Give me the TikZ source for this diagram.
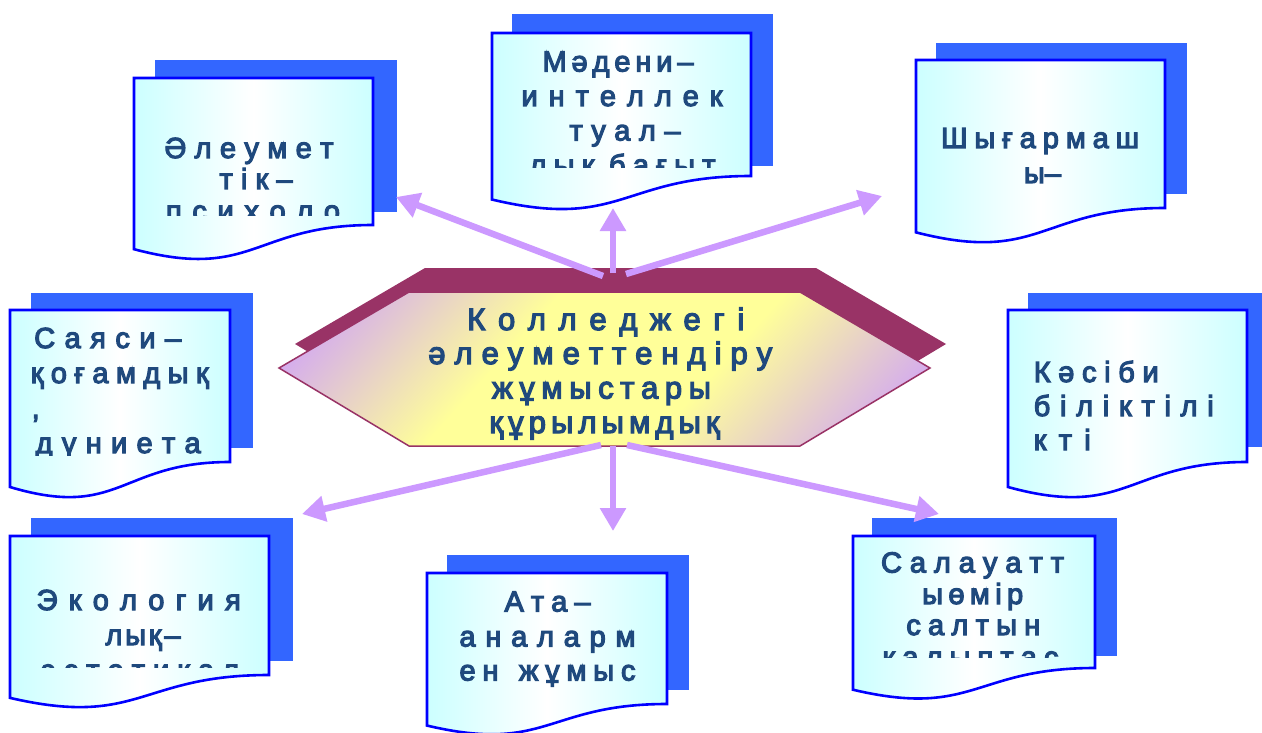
\documentclass[tikz,border=0pt]{standalone}
\usepackage{fontspec}
\setmainfont{Liberation Sans}
\newfontfamily\kzfont{Liberation Sans}[FakeBold=4]
\usetikzlibrary{arrows.meta}
\definecolor{lav}{RGB}{206,160,250}
\definecolor{yel}{RGB}{255,255,153}
\definecolor{maroonc}{RGB}{153,51,102}
\definecolor{shadowb}{RGB}{51,102,255}
\definecolor{docblue}{RGB}{0,0,255}
\definecolor{cyanl}{RGB}{204,255,255}
\definecolor{txtblue}{RGB}{31,73,125}
\definecolor{arrowc}{RGB}{204,153,255}
\pgfdeclarehorizontalshading{hexshade}{100bp}{color(0bp)=(lav); color(18bp)=(lav); color(40bp)=(yel); color(60bp)=(yel); color(82bp)=(lav); color(100bp)=(lav)}
\newcommand\spr[2]{\makebox[#1pt][s]{\spaceskip=0pt plus 1fil\relax #2}}
\newcommand\docshape[5]{%
  \pgfmathsetmacro\dH{(#5-#3)/0.802}%
  \pgfmathsetmacro\dM{(#2+#4)/2}%
  \pgfmathsetmacro\dC{#3+1.1075*\dH}%
  \pgfmathsetmacro\dL{#3+0.934*\dH}%
  \draw[docline] (#2,#3) -- (#4,#3) -- (#4,#5) .. controls (\dM,#5) and (\dM,\dC) .. (#2,\dL) -- cycle;
  \coordinate (#1) at (\dM,#3);
}
\begin{document}
\begin{tikzpicture}[x=1pt,y=-1pt,
  docline/.style={draw=docblue, line width=2.6pt, left color=cyanl, right color=cyanl, middle color=white},
  docshadow/.style={fill=shadowb},
  dtext/.style={text=txtblue, inner sep=0pt, font=\kzfont\fontsize{29pt}{31pt}\selectfont},
  htext/.style={text=txtblue, inner sep=0pt, font=\kzfont\fontsize{31pt}{33pt}\selectfont},
  arr/.style={draw=arrowc, line width=6.5pt, -{Triangle[length=23pt,width=25pt]}}]
\useasboundingbox (0,0) rectangle (1262,733);
\fill[white] (0,0) rectangle (1262,733);

% shadows
\fill[docshadow] (155,60) rectangle (397,212);
\fill[docshadow] (512,14) rectangle (773,166);
\fill[docshadow] (936,43) rectangle (1187,194);
\fill[docshadow] (31,293) rectangle (253,448);
\fill[docshadow] (1028,293) rectangle (1262,447);
\fill[docshadow] (31,518) rectangle (293,661);
\fill[docshadow] (447,555) rectangle (689,690);
\fill[docshadow] (872,518) rectangle (1117,656);

% documents
\docshape{docA}{134}{78}{373}{225}
\docshape{docB}{492}{33}{751}{176}
\docshape{docC}{916}{60}{1165}{208}
\docshape{docD}{10}{310}{230}{462}
\docshape{docE}{1008}{310}{1247}{462}
\docshape{docF}{10}{536}{269}{675}
\docshape{docG}{427}{573}{667}{704}
\docshape{docH}{853}{536}{1095}{668}

% document texts
\begin{scope}
\clip (134,78) rectangle (373,216);
\node[dtext, anchor=base] (tA1) at (249,158) {\spr{169}{Ә л е у м е т}};
\node[dtext, anchor=base] (tA2) at (256,189) {\spr{73}{т і к –}};
\node[dtext, anchor=base] (tA3) at (253,221) {\spr{174}{п с и х о л о}};
\end{scope}
\begin{scope}
\clip (492,33) rectangle (751,168);
\node[dtext, anchor=base] (tB1) at (618,71.5) {\spr{151}{М ә д е н и –}};
\node[dtext, anchor=base] (tB2) at (622,106) {\spr{201}{и н т е л л е к}};
\node[dtext, anchor=base] (tB3) at (625,140.5) {\spr{111}{т у а л –}};
\node[dtext, anchor=base] (tB4) at (622.5,175) {\spr{186}{л ы қ\ \ б а ғ ы т}};
\end{scope}
\node[dtext, anchor=base] (tC1) at (1040,148) {\spr{198}{Ш ы ғ а р м а ш}};
\node[dtext, anchor=base] (tC2) at (1041.5,183) {\spr{35}{ы –}};
\begin{scope}
\clip (10,310) rectangle (230,455);
\node[dtext, anchor=base west] (tD1) at (34,348) {\spr{147}{С а я с и –}};
\node[dtext, anchor=base west] (tD2) at (30.5,383) {\spr{178}{қ о ғ а м д ы қ}};
\node[dtext, anchor=base west] (tD3) at (31.5,418) {,};
\node[dtext, anchor=base west] (tD4) at (35.5,453) {\spr{165}{д ү н и е т а}};
\end{scope}
\node[dtext, anchor=base west] (tE1) at (1033.5,382) {\spr{125}{К ә с і б и}};
\node[dtext, anchor=base west] (tE2) at (1033.5,416) {\spr{180}{б і л і к т і л і}};
\node[dtext, anchor=base west] (tE3) at (1033.5,450) {\spr{57}{к т і}};
\begin{scope}
\clip (10,536) rectangle (269,667);
\node[dtext, anchor=base] (tF1) at (138.7,610) {\spr{204}{Э к о л о г и я}};
\node[dtext, anchor=base] (tF2) at (143,645) {\spr{75}{л ы қ –}};
\node[dtext, anchor=base] (tF3) at (140,680) {\spr{198}{э с т е т и к а л}};
\end{scope}
\node[dtext, anchor=base] (tG1) at (547.5,611.5) {\spr{86}{А т а –}};
\node[dtext, anchor=base] (tG2) at (547.5,646.5) {\spr{176}{а н а л а р м}};
\node[dtext, anchor=base] (tG3) at (547.5,680.5) {\spr{176}{е н\ \ \ ж ұ м ы с}};
\begin{scope}
\clip (853,536) rectangle (1095,657);
\node[dtext, anchor=base] (tH1) at (972.5,572.5) {\spr{183}{С а л а у а т т}};
\node[dtext, anchor=base] (tH2) at (972.7,604) {\spr{101}{ы ө м і р}};
\node[dtext, anchor=base] (tH3) at (973.3,635) {\spr{134}{с а л т ы н}};
\node[dtext, anchor=base] (tH4) at (970.5,667) {\spr{176}{қ а л ы п т а с}};
\end{scope}

% central hexagon
\fill[maroonc] (295,344) -- (425,268) -- (816,268) -- (946,344) -- (816,422) -- (425,422) -- cycle;
\shadedraw[shading=hexshade, shading angle=-42, draw=maroonc, line width=1.5pt]
  (279,368) -- (409,292) -- (800,292) -- (930,368) -- (800,446) -- (409,446) -- cycle;
\coordinate (hub) at (604.5,369);
\node[htext, anchor=base] (h1) at (605.8,330) {\spr{277}{К о л л е д ж е г і}};
\node[htext, anchor=base] (h2) at (600.3,364) {\spr{344}{ә л е у м е т т е н д і р у}};
\node[htext, anchor=base] (h3) at (601.5,398.5) {\spr{219}{ж ұ м ы с т а р ы}};
\node[htext, anchor=base] (h4) at (604.5,433) {\spr{230}{қ ұ р ы л ы м д ы қ}};

% arrows
\coordinate (sA) at (603,276);
\coordinate (eA) at (396,197);
\coordinate (sB) at (613,273);
\coordinate (eB) at (613,208);
\coordinate (sC) at (626,274);
\coordinate (eC) at (882,196);
\coordinate (sF) at (601,445);
\coordinate (eF) at (302,514);
\coordinate (sG) at (613,446);
\coordinate (eG) at (613,531);
\coordinate (sH) at (627,445);
\coordinate (eH) at (939,514);
\draw[arr] (sA) -- (eA);
\draw[arr] (sB) -- (eB);
\draw[arr] (sC) -- (eC);
\draw[arr] (sF) -- (eF);
\draw[arr] (sG) -- (eG);
\draw[arr] (sH) -- (eH);
\end{tikzpicture}
\end{document}
